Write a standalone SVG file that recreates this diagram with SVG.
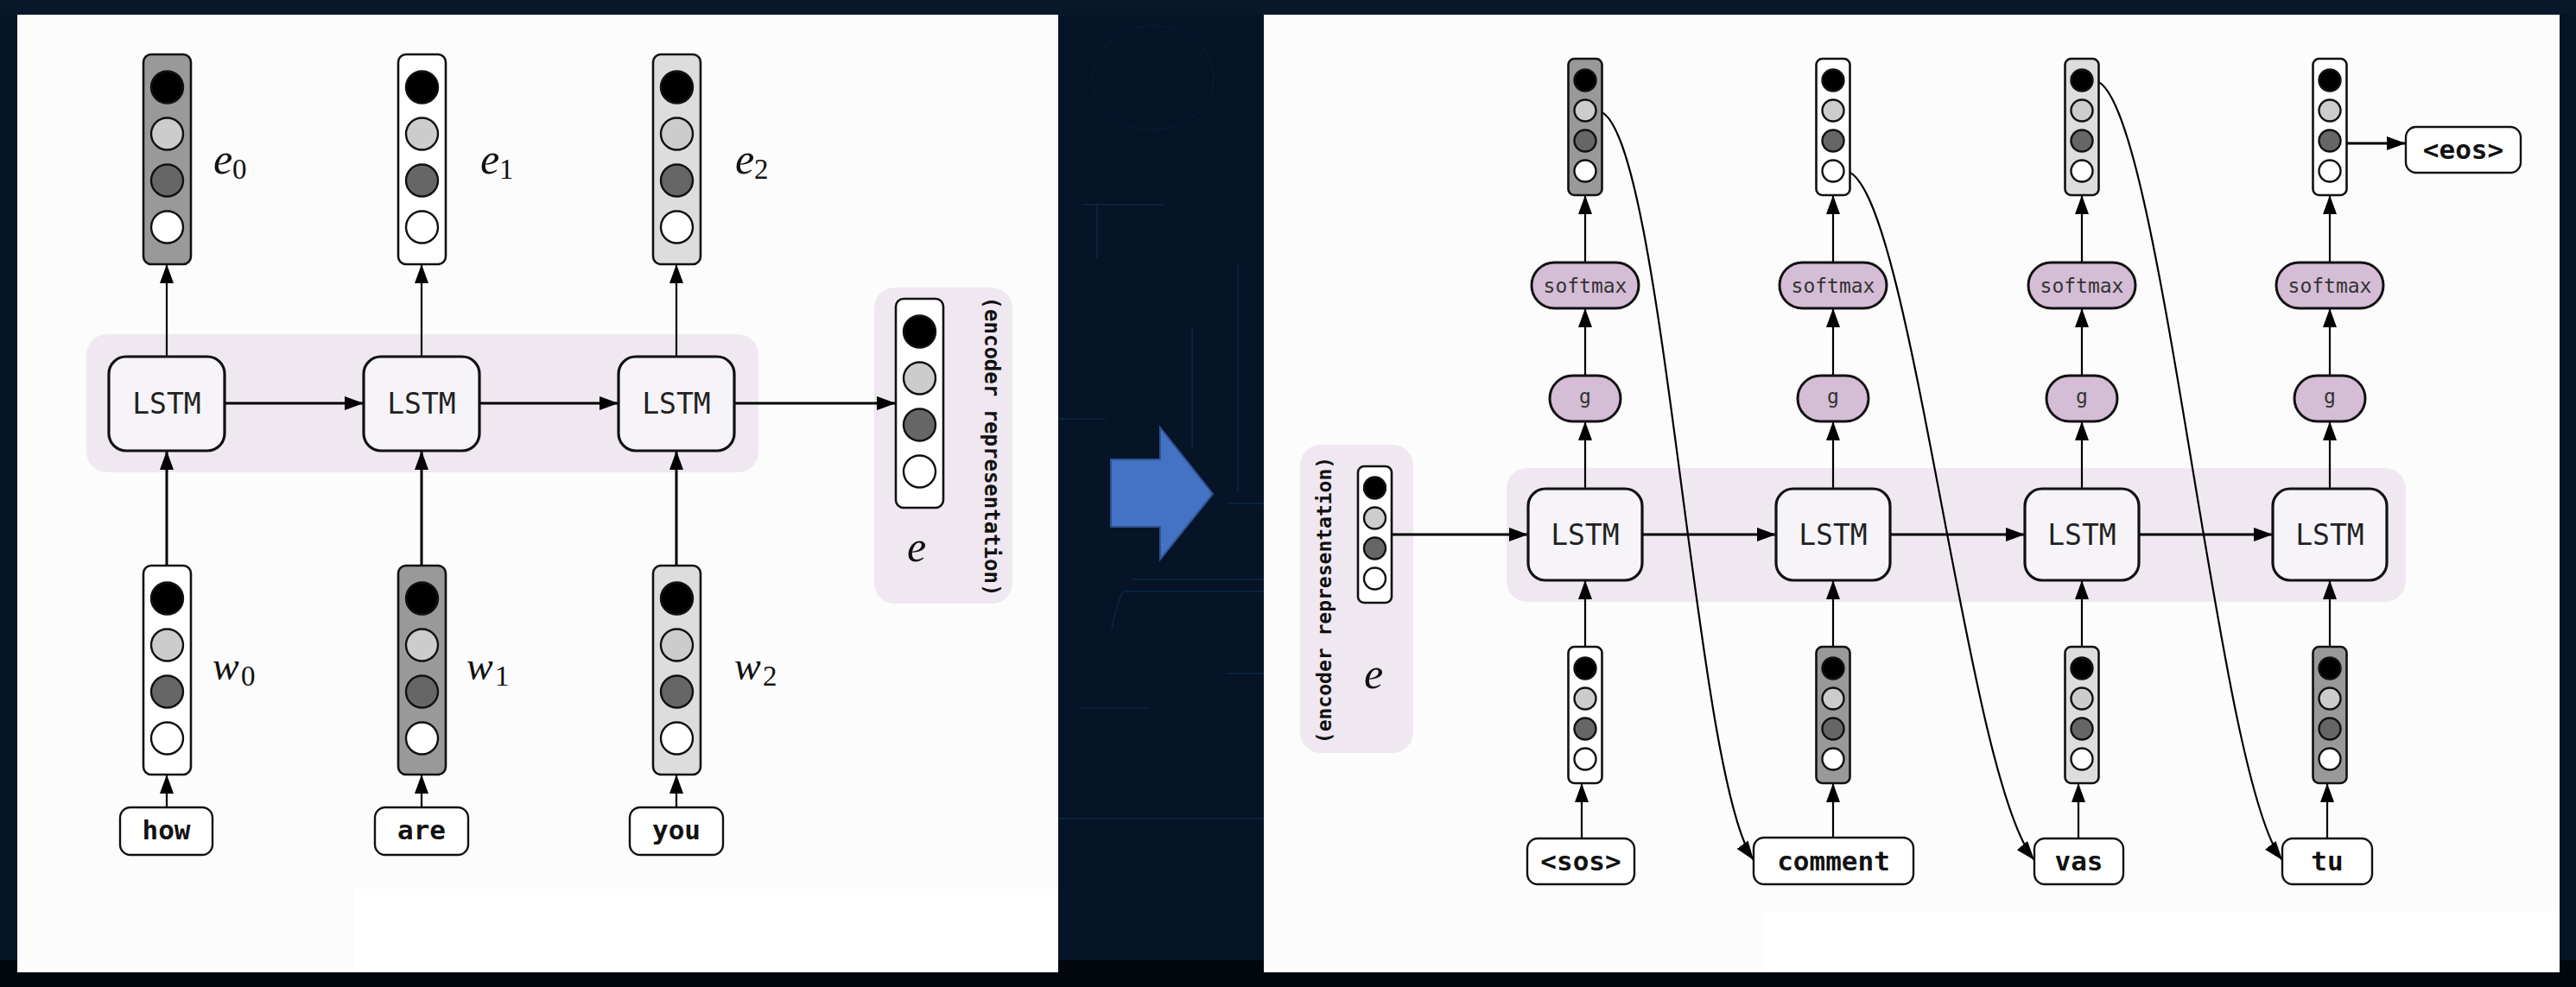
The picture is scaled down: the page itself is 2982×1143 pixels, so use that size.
<svg xmlns="http://www.w3.org/2000/svg" width="2982" height="1143" viewBox="0 0 2982 1143">
<defs>
<style>
.band{fill:#efe8f0}
.lstm{fill:#f6f4f8;stroke:#111;stroke-width:3.2}
.lt{font-family:"DejaVu Sans Mono","Liberation Mono",monospace;font-size:33px;fill:#222;text-anchor:middle}
.vec{stroke:#111;stroke-width:2.6}
.c{stroke:#111;stroke-width:2.4}
.k{fill:#000}.l{fill:#cccccc}.d{fill:#666666}.w{fill:#ffffff}
.g9{fill:#999999}.gd{fill:#dddddd}
.word{fill:#ffffff;stroke:#111;stroke-width:2.4}
.wt{font-family:"DejaVu Sans Mono","Liberation Mono",monospace;font-weight:bold;font-size:31px;fill:#111;text-anchor:middle}
.pill{fill:#d5bdd5;stroke:#111;stroke-width:3}
.pt{font-family:"DejaVu Sans Mono","Liberation Mono",monospace;font-size:23px;fill:#333;text-anchor:middle}
.lab{font-family:"Liberation Serif","DejaVu Serif",serif;font-style:italic;font-size:50px;fill:#111}
.labw{font-family:"Liberation Serif","DejaVu Serif",serif;font-style:italic;font-size:46px;fill:#111}
.sub{font-family:"Liberation Serif","DejaVu Serif",serif;font-size:33px;fill:#111}
.vt{font-family:"DejaVu Sans Mono","Liberation Mono",monospace;font-weight:bold;fill:#111;text-anchor:middle;dominant-baseline:central}
.cn{fill:none;stroke:#000}
.t3{stroke-width:3}
.t2{stroke-width:2.2}
.cir{fill:none;stroke:#0f2d50;stroke-width:2;opacity:0.55}
</style>
<marker id="ah" markerUnits="userSpaceOnUse" markerWidth="24" markerHeight="18" viewBox="0 0 24 18" refX="22" refY="8" orient="auto">
<path d="M0,0 L22,8 L0,16 z" fill="#000"/>
</marker>
</defs>

<!-- background -->
<g id="background">
<rect x="0" y="0" width="2982" height="1143" fill="#051426"/>
<rect x="0" y="0" width="2982" height="17" fill="#07182b"/>
<rect x="0" y="1112" width="2982" height="31" fill="#02070d"/>
<path class="cir" d="M1253,237 H1347 M1270,237 V299 M1300,685 H1463 M1300,685 Q1292,700 1287,729 M1310,671 H1463 M1420,583 H1463 M1433,306 V569 M1420,780 H1463 M1220,948 H1463 M1220,485 H1280 M1380,380 V520 M1250,820 H1330"/>
<ellipse cx="1335" cy="90" rx="70" ry="60" fill="none" stroke="#0c2540" stroke-width="2" opacity="0.35"/>
</g>

<!-- panels -->
<g id="panels">
<rect x="20" y="17" width="1205" height="1109" fill="#fcfcfc"/>
<rect x="410" y="1030" width="815" height="96" fill="#ffffff"/>
<rect x="1463" y="17" width="1500" height="1109" fill="#fcfcfc"/>
<rect x="2043" y="1055" width="920" height="71" fill="#ffffff"/>
</g>

<!-- big arrow -->
<g id="transition-arrow">
<polygon points="1286,532 1343,532 1343,495 1404,572 1343,648 1343,610 1286,610" fill="#4472c4" stroke="#2f528f" stroke-width="2"/>
</g>

<!-- ===== LEFT: encoder ===== -->
<g id="enc-band"><rect class="band" x="100" y="387" width="778" height="160" rx="24"/></g>
<g id="enc-repr-box"><rect class="band" x="1012" y="333" width="160" height="366" rx="24"/></g>

<g id="enc-connectors">
<line class="cn t2" x1="193" y1="413" x2="193" y2="306" marker-end="url(#ah)"/>
<line class="cn t2" x1="488" y1="413" x2="488" y2="306" marker-end="url(#ah)"/>
<line class="cn t2" x1="783" y1="413" x2="783" y2="306" marker-end="url(#ah)"/>
<line class="cn t3" x1="193" y1="655" x2="193" y2="522" marker-end="url(#ah)"/>
<line class="cn t3" x1="488" y1="655" x2="488" y2="522" marker-end="url(#ah)"/>
<line class="cn t3" x1="783" y1="655" x2="783" y2="522" marker-end="url(#ah)"/>
<line class="cn t2" x1="193" y1="935" x2="193" y2="897" marker-end="url(#ah)"/>
<line class="cn t2" x1="488" y1="935" x2="488" y2="897" marker-end="url(#ah)"/>
<line class="cn t2" x1="783" y1="935" x2="783" y2="897" marker-end="url(#ah)"/>
<line class="cn t3" x1="260" y1="467" x2="421" y2="467" marker-end="url(#ah)"/>
<line class="cn t3" x1="555" y1="467" x2="716" y2="467" marker-end="url(#ah)"/>
<line class="cn t3" x1="850" y1="467" x2="1037" y2="467" marker-end="url(#ah)"/>
</g>

<g id="enc-lstm-0"><rect class="lstm" x="126" y="413" width="134" height="109" rx="20"/><text class="lt" x="193" y="479">LSTM</text></g>
<g id="enc-lstm-1"><rect class="lstm" x="421" y="413" width="134" height="109" rx="20"/><text class="lt" x="488" y="479">LSTM</text></g>
<g id="enc-lstm-2"><rect class="lstm" x="716" y="413" width="134" height="109" rx="20"/><text class="lt" x="783" y="479">LSTM</text></g>

<g id="e0">
<rect class="vec g9" x="166" y="63" width="55" height="243" rx="9"/>
<circle class="c k" cx="193.5" cy="101" r="18.5"/><circle class="c l" cx="193.5" cy="155" r="18.5"/><circle class="c d" cx="193.5" cy="209" r="18.5"/><circle class="c w" cx="193.5" cy="263" r="18.5"/>
<text class="lab" x="247" y="201">e</text><text class="sub" x="269" y="207">0</text>
</g>
<g id="e1">
<rect class="vec w" x="461" y="63" width="55" height="243" rx="9"/>
<circle class="c k" cx="488.5" cy="101" r="18.5"/><circle class="c l" cx="488.5" cy="155" r="18.5"/><circle class="c d" cx="488.5" cy="209" r="18.5"/><circle class="c w" cx="488.5" cy="263" r="18.5"/>
<text class="lab" x="556" y="201">e</text><text class="sub" x="578" y="207">1</text>
</g>
<g id="e2">
<rect class="vec gd" x="756" y="63" width="55" height="243" rx="9"/>
<circle class="c k" cx="783.5" cy="101" r="18.5"/><circle class="c l" cx="783.5" cy="155" r="18.5"/><circle class="c d" cx="783.5" cy="209" r="18.5"/><circle class="c w" cx="783.5" cy="263" r="18.5"/>
<text class="lab" x="851" y="201">e</text><text class="sub" x="873" y="207">2</text>
</g>

<g id="w0">
<rect class="vec w" x="166" y="655" width="55" height="242" rx="9"/>
<circle class="c k" cx="193.5" cy="693" r="18.5"/><circle class="c l" cx="193.5" cy="747" r="18.5"/><circle class="c d" cx="193.5" cy="801" r="18.5"/><circle class="c w" cx="193.5" cy="855" r="18.5"/>
<text class="labw" x="246" y="787">w</text><text class="sub" x="279" y="794">0</text>
</g>
<g id="w1">
<rect class="vec g9" x="461" y="655" width="55" height="242" rx="9"/>
<circle class="c k" cx="488.5" cy="693" r="18.5"/><circle class="c l" cx="488.5" cy="747" r="18.5"/><circle class="c d" cx="488.5" cy="801" r="18.5"/><circle class="c w" cx="488.5" cy="855" r="18.5"/>
<text class="labw" x="540" y="787">w</text><text class="sub" x="573" y="794">1</text>
</g>
<g id="w2">
<rect class="vec gd" x="756" y="655" width="55" height="242" rx="9"/>
<circle class="c k" cx="783.5" cy="693" r="18.5"/><circle class="c l" cx="783.5" cy="747" r="18.5"/><circle class="c d" cx="783.5" cy="801" r="18.5"/><circle class="c w" cx="783.5" cy="855" r="18.5"/>
<text class="labw" x="850" y="787">w</text><text class="sub" x="883" y="794">2</text>
</g>

<g id="word-how"><rect class="word" x="139" y="935" width="107" height="55" rx="12"/><text class="wt" x="192.5" y="972">how</text></g>
<g id="word-are"><rect class="word" x="434" y="935" width="108" height="55" rx="12"/><text class="wt" x="488" y="972">are</text></g>
<g id="word-you"><rect class="word" x="729" y="935" width="108" height="55" rx="12"/><text class="wt" x="783" y="972">you</text></g>

<g id="enc-repr">
<rect class="vec w" x="1037" y="346" width="55" height="242" rx="9"/>
<circle class="c k" cx="1064.5" cy="384" r="18.5"/><circle class="c l" cx="1064.5" cy="438" r="18.5"/><circle class="c d" cx="1064.5" cy="492" r="18.5"/><circle class="c w" cx="1064.5" cy="546" r="18.5"/>
<text class="lab" x="1050" y="650">e</text>
<text class="vt" font-size="24" transform="translate(1148,517) rotate(90)" x="0" y="0">(encoder representation)</text>
</g>

<!-- ===== RIGHT: decoder ===== -->
<g id="dec-band"><rect class="band" x="1744" y="542" width="1041" height="155" rx="24"/></g>
<g id="dec-repr-box"><rect class="band" x="1505" y="515" width="131" height="357" rx="24"/></g>

<g id="dec-connectors">
<line class="cn t3" x1="1611" y1="619" x2="1769" y2="619" marker-end="url(#ah)"/>
<line class="cn t3" x1="1901" y1="619" x2="2056" y2="619" marker-end="url(#ah)"/>
<line class="cn t3" x1="2188" y1="619" x2="2344" y2="619" marker-end="url(#ah)"/>
<line class="cn t3" x1="2476" y1="619" x2="2631" y2="619" marker-end="url(#ah)"/>

<line class="cn t2" x1="1831" y1="971" x2="1831" y2="907" marker-end="url(#ah)"/>
<line class="cn t2" x1="2122" y1="969" x2="2122" y2="907" marker-end="url(#ah)"/>
<line class="cn t2" x1="2406" y1="971" x2="2406" y2="907" marker-end="url(#ah)"/>
<line class="cn t2" x1="2694" y1="971" x2="2694" y2="907" marker-end="url(#ah)"/>

<line class="cn t2" x1="1835" y1="749" x2="1835" y2="672" marker-end="url(#ah)"/>
<line class="cn t2" x1="2122" y1="749" x2="2122" y2="672" marker-end="url(#ah)"/>
<line class="cn t2" x1="2410" y1="749" x2="2410" y2="672" marker-end="url(#ah)"/>
<line class="cn t2" x1="2697" y1="749" x2="2697" y2="672" marker-end="url(#ah)"/>

<line class="cn t2" x1="1835" y1="566" x2="1835" y2="488" marker-end="url(#ah)"/>
<line class="cn t2" x1="2122" y1="566" x2="2122" y2="488" marker-end="url(#ah)"/>
<line class="cn t2" x1="2410" y1="566" x2="2410" y2="488" marker-end="url(#ah)"/>
<line class="cn t2" x1="2697" y1="566" x2="2697" y2="488" marker-end="url(#ah)"/>

<line class="cn t2" x1="1835" y1="435" x2="1835" y2="357" marker-end="url(#ah)"/>
<line class="cn t2" x1="2122" y1="435" x2="2122" y2="357" marker-end="url(#ah)"/>
<line class="cn t2" x1="2410" y1="435" x2="2410" y2="357" marker-end="url(#ah)"/>
<line class="cn t2" x1="2697" y1="435" x2="2697" y2="357" marker-end="url(#ah)"/>

<line class="cn t2" x1="1835" y1="304" x2="1835" y2="226" marker-end="url(#ah)"/>
<line class="cn t2" x1="2122" y1="304" x2="2122" y2="226" marker-end="url(#ah)"/>
<line class="cn t2" x1="2410" y1="304" x2="2410" y2="226" marker-end="url(#ah)"/>
<line class="cn t2" x1="2697" y1="304" x2="2697" y2="226" marker-end="url(#ah)"/>

<line class="cn t3" x1="2717" y1="166" x2="2785" y2="166" marker-end="url(#ah)"/>

<path class="cn t2" d="M1848,128 C1925,128 1960,900 2030,996" marker-end="url(#ah)"/>
<path class="cn t2" d="M2135,198 C2210,198 2275,900 2355,996" marker-end="url(#ah)"/>
<path class="cn t2" d="M2423,93 C2500,93 2565,900 2642,996" marker-end="url(#ah)"/>
</g>

<g id="dec-lstm-0"><rect class="lstm" x="1769" y="566" width="132" height="106" rx="20"/><text class="lt" x="1835" y="631">LSTM</text></g>
<g id="dec-lstm-1"><rect class="lstm" x="2056" y="566" width="132" height="106" rx="20"/><text class="lt" x="2122" y="631">LSTM</text></g>
<g id="dec-lstm-2"><rect class="lstm" x="2344" y="566" width="132" height="106" rx="20"/><text class="lt" x="2410" y="631">LSTM</text></g>
<g id="dec-lstm-3"><rect class="lstm" x="2631" y="566" width="132" height="106" rx="20"/><text class="lt" x="2697" y="631">LSTM</text></g>

<g id="g-0"><rect class="pill" x="1794" y="435" width="82" height="53" rx="26.5"/><text class="pt" x="1835" y="467">g</text></g>
<g id="g-1"><rect class="pill" x="2081" y="435" width="82" height="53" rx="26.5"/><text class="pt" x="2122" y="467">g</text></g>
<g id="g-2"><rect class="pill" x="2369" y="435" width="82" height="53" rx="26.5"/><text class="pt" x="2410" y="467">g</text></g>
<g id="g-3"><rect class="pill" x="2656" y="435" width="82" height="53" rx="26.5"/><text class="pt" x="2697" y="467">g</text></g>

<g id="softmax-0"><rect class="pill" x="1773" y="304" width="124" height="53" rx="26.5"/><text class="pt" x="1835" y="339">softmax</text></g>
<g id="softmax-1"><rect class="pill" x="2060" y="304" width="124" height="53" rx="26.5"/><text class="pt" x="2122" y="339">softmax</text></g>
<g id="softmax-2"><rect class="pill" x="2348" y="304" width="124" height="53" rx="26.5"/><text class="pt" x="2410" y="339">softmax</text></g>
<g id="softmax-3"><rect class="pill" x="2635" y="304" width="124" height="53" rx="26.5"/><text class="pt" x="2697" y="339">softmax</text></g>

<g id="out-0">
<rect class="vec g9" x="1815.5" y="68" width="39" height="158" rx="7"/>
<circle class="c k" cx="1835" cy="93" r="12.5"/><circle class="c l" cx="1835" cy="128" r="12.5"/><circle class="c d" cx="1835" cy="163" r="12.5"/><circle class="c w" cx="1835" cy="198" r="12.5"/>
</g>
<g id="out-1">
<rect class="vec w" x="2102.5" y="68" width="39" height="158" rx="7"/>
<circle class="c k" cx="2122" cy="93" r="12.5"/><circle class="c l" cx="2122" cy="128" r="12.5"/><circle class="c d" cx="2122" cy="163" r="12.5"/><circle class="c w" cx="2122" cy="198" r="12.5"/>
</g>
<g id="out-2">
<rect class="vec gd" x="2390.5" y="68" width="39" height="158" rx="7"/>
<circle class="c k" cx="2410" cy="93" r="12.5"/><circle class="c l" cx="2410" cy="128" r="12.5"/><circle class="c d" cx="2410" cy="163" r="12.5"/><circle class="c w" cx="2410" cy="198" r="12.5"/>
</g>
<g id="out-3">
<rect class="vec w" x="2677.5" y="68" width="39" height="158" rx="7"/>
<circle class="c k" cx="2697" cy="93" r="12.5"/><circle class="c l" cx="2697" cy="128" r="12.5"/><circle class="c d" cx="2697" cy="163" r="12.5"/><circle class="c w" cx="2697" cy="198" r="12.5"/>
</g>

<g id="in-0">
<rect class="vec w" x="1815.5" y="749" width="39" height="158" rx="7"/>
<circle class="c k" cx="1835" cy="774" r="12.5"/><circle class="c l" cx="1835" cy="809" r="12.5"/><circle class="c d" cx="1835" cy="844" r="12.5"/><circle class="c w" cx="1835" cy="879" r="12.5"/>
</g>
<g id="in-1">
<rect class="vec g9" x="2102.5" y="749" width="39" height="158" rx="7"/>
<circle class="c k" cx="2122" cy="774" r="12.5"/><circle class="c l" cx="2122" cy="809" r="12.5"/><circle class="c d" cx="2122" cy="844" r="12.5"/><circle class="c w" cx="2122" cy="879" r="12.5"/>
</g>
<g id="in-2">
<rect class="vec gd" x="2390.5" y="749" width="39" height="158" rx="7"/>
<circle class="c k" cx="2410" cy="774" r="12.5"/><circle class="c l" cx="2410" cy="809" r="12.5"/><circle class="c d" cx="2410" cy="844" r="12.5"/><circle class="c w" cx="2410" cy="879" r="12.5"/>
</g>
<g id="in-3">
<rect class="vec g9" x="2677.5" y="749" width="39" height="158" rx="7"/>
<circle class="c k" cx="2697" cy="774" r="12.5"/><circle class="c l" cx="2697" cy="809" r="12.5"/><circle class="c d" cx="2697" cy="844" r="12.5"/><circle class="c w" cx="2697" cy="879" r="12.5"/>
</g>

<g id="word-sos"><rect class="word" x="1768" y="971" width="124" height="53" rx="12"/><text class="wt" x="1830" y="1008">&lt;sos&gt;</text></g>
<g id="word-comment"><rect class="word" x="2030" y="970" width="185" height="54" rx="12"/><text class="wt" x="2122.5" y="1008">comment</text></g>
<g id="word-vas"><rect class="word" x="2355" y="971" width="103" height="53" rx="12"/><text class="wt" x="2406.5" y="1008">vas</text></g>
<g id="word-tu"><rect class="word" x="2642" y="971" width="104" height="53" rx="12"/><text class="wt" x="2694" y="1008">tu</text></g>
<g id="word-eos"><rect class="word" x="2785" y="147" width="133" height="53" rx="12"/><text class="wt" x="2851.5" y="184">&lt;eos&gt;</text></g>

<g id="dec-repr">
<rect class="vec w" x="1572" y="540" width="39" height="158" rx="7"/>
<circle class="c k" cx="1591.5" cy="565" r="12.5"/><circle class="c l" cx="1591.5" cy="600" r="12.5"/><circle class="c d" cx="1591.5" cy="635" r="12.5"/><circle class="c w" cx="1591.5" cy="670" r="12.5"/>
<text class="lab" x="1579" y="797" font-size="46">e</text>
<text class="vt" font-size="23" transform="translate(1533,695) rotate(-90)" x="0" y="0">(encoder representation)</text>
</g>
</svg>
